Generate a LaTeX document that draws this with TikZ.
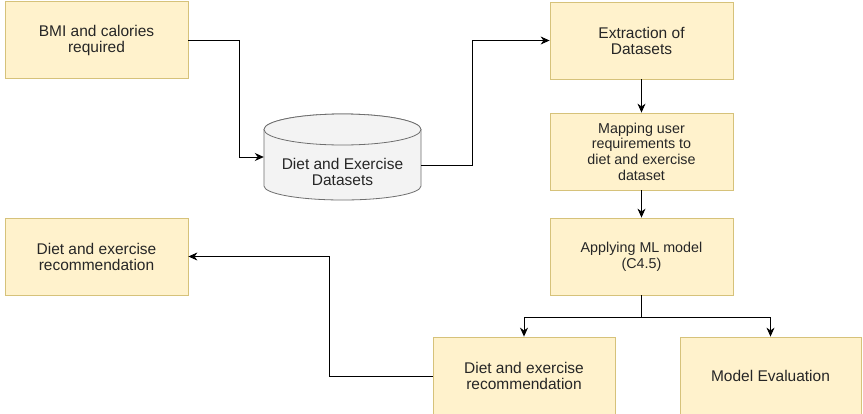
\documentclass[tikz,border=0pt]{standalone}
\usepackage{fontspec}
\setmainfont{Liberation Sans}
\usetikzlibrary{arrows.meta}
\definecolor{boxfill}{HTML}{FFF2CC}
\definecolor{boxline}{HTML}{D6C27A}
\definecolor{cylfill}{HTML}{F3F3F3}
\definecolor{cylline}{HTML}{6E6E6E}
\definecolor{txt}{HTML}{262626}
\begin{document}
\begin{tikzpicture}[x=1pt,y=-1pt,
  stepbox/.style={draw=boxline, line width=0.8pt, fill=boxfill, inner sep=0pt,
    minimum width=183pt, minimum height=77pt, align=center, text=txt,
    font=\fontsize{15.5}{16}\selectfont},
  smallbox/.style={stepbox, font=\fontsize{14.3}{15.7}\selectfont},
  arr/.style={draw=black, line width=0.9pt, -{Stealth[length=9pt,width=8pt]}},
  ln/.style={draw=black, line width=0.9pt}]
\useasboundingbox[fill=white] (0,0) rectangle (863,413);

% process boxes
\node[stepbox] (bmi) at (96.5,40) {BMI and calories\\required};
\node[stepbox] (ext) at (641.5,40.5) {Extraction of\\Datasets};
\node[smallbox] (map) at (641.5,151.5) {Mapping user\\requirements to\\diet and exercise\\dataset};
\node[smallbox] (ml) at (641.5,256.5) {Applying ML model\\(C4.5)};
\node[stepbox] (recL) at (96.5,256.5) {Diet and exercise\\recommendation};
\node[stepbox, minimum width=182pt, minimum height=78pt] (recB) at (524,376) {Diet and exercise\\recommendation};
\node[stepbox, minimum width=181pt, minimum height=78pt] (eval) at (770.5,376) {Model Evaluation};

% dataset store drawn as a cylinder
\draw[draw=cylline, line width=0.8pt, fill=cylfill]
  (264,129.5) -- (264,186) arc[start angle=180, end angle=360, x radius=78.5pt, y radius=14pt]
  -- (421,129.5) arc[start angle=0, end angle=180, x radius=78.5pt, y radius=15.5pt] -- cycle;
\draw[draw=cylline, line width=0.8pt, fill=cylfill] (342.5,129.5) ellipse [x radius=78.5pt, y radius=15.5pt];
\node[inner sep=0pt, minimum width=157pt, minimum height=86pt] (cyl) at (342.5,157) {};
\node[inner sep=0pt, align=center, text=txt, font=\fontsize{15.5}{16}\selectfont]
  (cyltext) at (342.5,172) {Diet and Exercise\\Datasets};

% connectors
\draw[arr] (bmi.east) -- ++(51,0) |- (cyl.west);
\draw[arr] ([yshift=-8pt]cyl.east) -- ++(51,0) |- (ext.west);
\draw[arr] (ext.south) -- (map.north);
\draw[arr] (map.south) -- (ml.north);
\draw[ln] (ml.south) -- ++(0,22) coordinate (split);
\draw[arr] (split) -| (recB.north);
\draw[arr] (split) -| (eval.north);
\draw[arr] (recB.west) -- ++(-103,0) |- (recL.east);
\end{tikzpicture}
\end{document}
